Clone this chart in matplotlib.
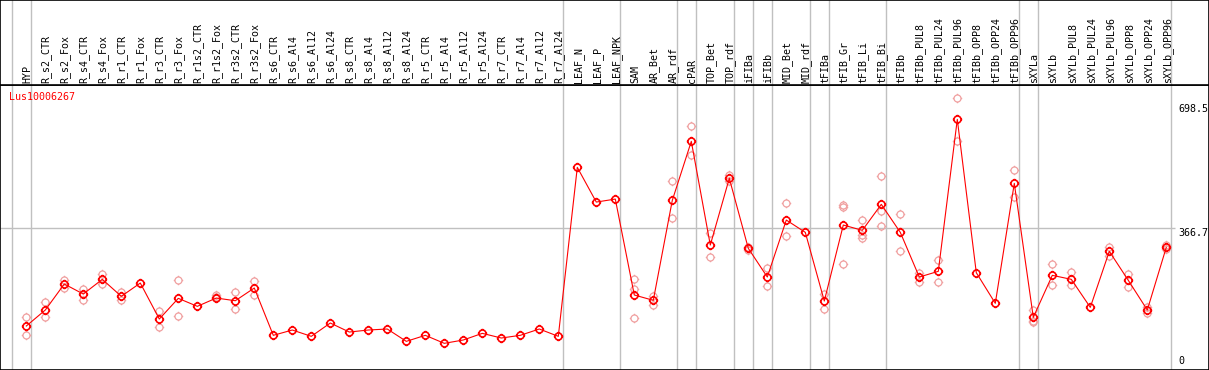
import numpy as np
import matplotlib
matplotlib.use("Agg")
import matplotlib.pyplot as plt
from matplotlib.path import Path

# sample names (columns)
labels = ["HYP",
          "R_s2_CTR", "R_s2_Fox", "R_s4_CTR", "R_s4_Fox", "R_r1_CTR", "R_r1_Fox",
          "R_r3_CTR", "R_r3_Fox", "R_r1s2_CTR", "R_r1s2_Fox", "R_r3s2_CTR", "R_r3s2_Fox",
          "R_s6_CTR", "R_s6_Al4", "R_s6_Al12", "R_s6_Al24",
          "R_s8_CTR", "R_s8_Al4", "R_s8_Al12", "R_s8_Al24",
          "R_r5_CTR", "R_r5_Al4", "R_r5_Al12", "R_r5_Al24",
          "R_r7_CTR", "R_r7_Al4", "R_r7_Al12", "R_r7_Al24",
          "LEAF_N", "LEAF_P", "LEAF_NPK",
          "SAM", "AR_Bet", "AR_rdf",
          "cPAR",
          "TOP_Bet", "TOP_rdf",
          "iFIBa", "iFIBb",
          "MID_Bet", "MID_rdf",
          "tFIBa",
          "tFIB_Gr", "tFIB_Li", "tFIB_Bi",
          "tFIBb", "tFIBb_PUL8", "tFIBb_PUL24", "tFIBb_PUL96", "tFIBb_OPP8", "tFIBb_OPP24", "tFIBb_OPP96",
          "sXYLa",
          "sXYLb", "sXYLb_PUL8", "sXYLb_PUL24", "sXYLb_PUL96", "sXYLb_OPP8", "sXYLb_OPP24", "sXYLb_OPP96"]

# how many columns in each block (grey separators)
group_sizes = [1, 28, 3, 3, 1, 2, 1, 1, 2, 1, 3, 7, 1, 7]

# mean expression per sample
means = [105.6,
         148.4, 217.9, 191.1, 230.4, 185.0, 220.5,
         124.3, 179.6, 158.2, 180.4, 173.2, 207.2,
         80.7, 94.9, 78.0, 113.6,
         89.5, 94.9, 97.6, 64.6,
         80.7, 59.3, 68.2, 86.0,
         73.5, 80.7, 97.6, 78.0,
         529.8, 437.0, 445.0,
         188.5, 174.3, 441.6,
         599.3,
         322.1, 500.4,
         313.3, 236.6,
         388.9, 356.0,
         172.4,
         375.6, 361.4, 430.9,
         356.0, 236.6, 251.8, 658.1, 248.1, 166.3, 487.0,
         128.8,
         241.1, 230.4, 155.5, 305.3, 227.7, 148.4, 316.0]

# replicate values (only the ones that show)
reps = [[128.8, 80.7],
        [169.7, 128.8], [228.6, 207.2], [204.5, 176.0], [243.8, 218.7], [195.7, 174.3], [],
        [145.7, 102.0], [228.6, 131.5], [], [189.3, 182.0], [196.5, 150.2], [226.7, 188.5],
        [], [], [], [],
        [], [], [], [],
        [], [], [], [],
        [], [], [], [],
        [], [], [],
        [230.4, 203.7, 127.0], [185.8, 162.5], [493.2, 393.5],
        [640.2, 561.9],
        [353.4, 290.8], [508.4, 493.2],
        [317.0, 309.0], [259.8, 211.7],
        [433.6, 345.3], [],
        [190.3, 150.2],
        [429.0, 423.7, 271.3], [388.9, 348.0, 340.8], [505.7, 412.2, 372.9],
        [404.2, 305.3], [246.5, 224.0], [282.0, 223.2], [714.2, 600.1], [], [], [522.6, 451.2],
        [148.4, 119.8, 115.5],
        [271.3, 214.4], [249.1, 214.4], [], [317.6, 293.5], [244.6, 209.0], [157.2, 139.5], [321.3, 310.6]]

axis_labels = [698.5, 366.7, 0]
gene = "Lus10006267"

# circle with four little ticks, like the original marker
circ = Path.unit_circle()
stubs = Path([(1, 0), (1.35, 0), (-1, 0), (-1.35, 0), (0, 1), (0, 1.35), (0, -1), (0, -1.35)],
             [Path.MOVETO, Path.LINETO] * 4)
mk = Path.make_compound_path(circ, stubs)

W, H = 1209, 370
head = 85
fig = plt.figure(figsize=(W / 100, H / 100), dpi=100)
ax = fig.add_axes([0, 0, 1, (H - head) / H])
hx = fig.add_axes([0, (H - head) / H, 1, head / H], sharex=ax)

x = np.arange(len(labels))
xl = (-26.3 / 19, (W - 26.3) / 19)
ax.set_xlim(xl)
ax.set_ylim(-12, 750)
hx.set_ylim(0, 1)

grey = "#c0c0c0"
bounds = np.concatenate([[0], np.cumsum(group_sizes)]) - 0.75
for b in bounds:
  ax.axvline(b, color=grey, lw=1, zorder=1)
  hx.axvline(b, color=grey, lw=1, zorder=1)
ax.hlines(366.7, xl[0], bounds[-1] + 0.2, color=grey, lw=1, zorder=1)

# replicates
rx, ry = [], []
for i, r in enumerate(reps):
  for v in r:
    rx.append(i)
    ry.append(v)
ax.plot(rx, ry, ls="none", marker=mk, ms=6.8, mfc="none", mec="#f0a0a0", mew=0.9, zorder=2)

# means
ax.plot(x, means, color="red", lw=0.8, marker=mk, ms=6.8, mfc="none", mec="red", mew=1.2, zorder=3)

# right side scale labels
xr = (1178 - 26.3) / 19
ax.text(xr, axis_labels[0], "698.5", va="top", ha="left", family="DejaVu Sans Mono", fontsize=7.2)
ax.text(xr, axis_labels[1], "366.7", va="top", ha="left", family="DejaVu Sans Mono", fontsize=7.2)
ax.text(xr, axis_labels[2], "0", va="bottom", ha="left", family="DejaVu Sans Mono", fontsize=7.2)

ax.text(9 / W, (H - 97) / (H - head), gene, transform=ax.transAxes, color="red",
        va="center", ha="left", family="DejaVu Sans Mono", fontsize=7.2)

for i, l in enumerate(labels):
  hx.text(i + 0.05, 2 / head, l, rotation=90, ha="center", va="bottom",
          family="DejaVu Sans Mono", fontsize=7.2)

for a in (ax, hx):
  a.set_xticks([])
  a.set_yticks([])
  for s in a.spines.values():
    s.set_color("black")
    s.set_linewidth(1.2)

fig.savefig("out.png", dpi=100)
